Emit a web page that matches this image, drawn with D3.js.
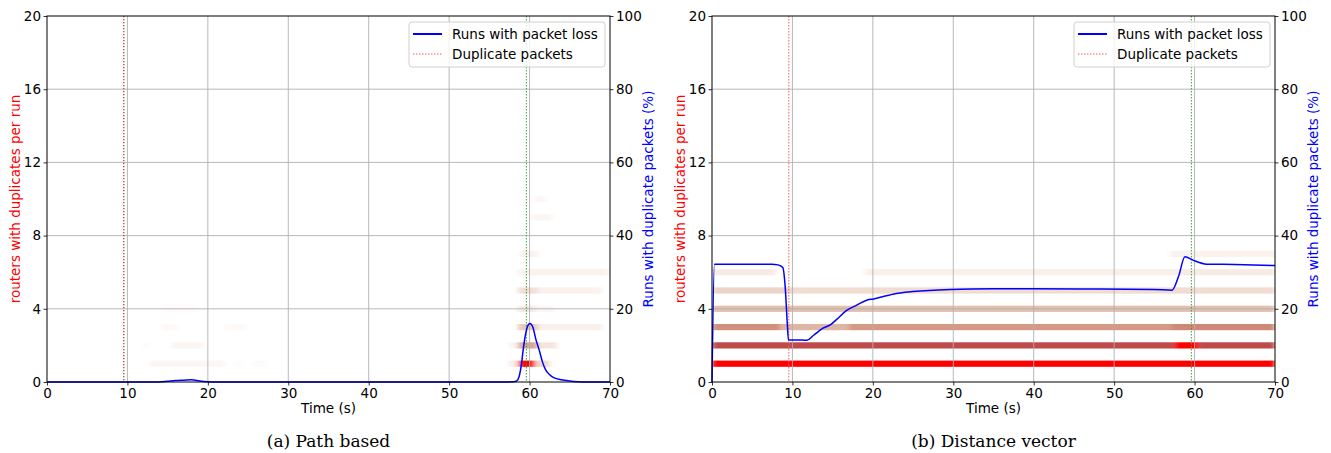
<!DOCTYPE html>
<html>
<head>
<meta charset="utf-8">
<script src="https://cdn.jsdelivr.net/npm/d3@7"></script>
<style>
  body { margin: 0; background: #fff; }
  text { font-family: "DejaVu Sans", sans-serif; }
  text.caption { font-family: "DejaVu Serif", "Liberation Serif", serif; }
</style>
</head>
<body>
<div id="chart"></div>
<script>
// axis ticks
let time_ticks = [0, 10, 20, 30, 40, 50, 60, 70];
let router_ticks = [0, 4, 8, 12, 16, 20];
let pct_ticks = [0, 20, 40, 60, 80, 100];

// runs with packet loss (%), path based
let path_loss_time = [0, 14, 15, 16, 17, 18, 19, 20, 21, 57, 58, 58.4, 58.7, 59, 59.2, 59.5, 59.8, 60.05, 60.4, 60.8, 61.2, 61.6, 62, 62.5, 63, 64, 65, 66, 67, 70];
let path_loss_pct = [0, 0, 0.2, 0.4, 0.5, 0.6, 0.3, 0.1, 0, 0, 0.05, 0.3, 1.5, 5, 8.7, 13, 15.5, 16, 15, 11.5, 8.7, 5.5, 3.3, 2, 1.2, 0.6, 0.3, 0.1, 0, 0];

// runs with packet loss (%), distance vector
let dv_loss_time = [0, 0.3, 1, 5, 7.4, 8.2, 8.8, 9.1, 9.36, 9.5, 10.5, 11.8, 12.6, 13.8, 14.7, 15.5, 16.7, 18, 19.3, 20.1, 22.5, 25, 29.6, 35, 40, 48.2, 55, 57.2, 58, 58.8, 59.8, 61.5, 65, 70];
let dv_loss_pct = [0, 32.2, 32.2, 32.2, 32.2, 32, 31.3, 26, 16, 11.5, 11.5, 11.4, 12.7, 14.7, 15.6, 17.1, 19.5, 21, 22.4, 22.7, 24, 24.7, 25.3, 25.5, 25.5, 25.4, 25.3, 25.1, 28.8, 34.2, 33.3, 32.2, 32.1, 31.8];

// routers with duplicates: [row, from (s), to (s), intensity]
let path_dup = [
  [1, 12.8, 22, 0.05], [1, 23.4, 24.2, 0.025], [1, 25.6, 27.3, 0.025],
  [1, 57.5, 58.6, 0.1], [1, 58.6, 60.7, 1.0], [1, 60.7, 62.5, 0.25],
  [2, 12, 12.7, 0.025], [2, 15.5, 19.4, 0.05],
  [2, 57.5, 58.6, 0.06], [2, 58.6, 61, 0.5], [2, 61, 63.4, 0.15],
  [3, 14.3, 16.2, 0.03], [3, 22.1, 24.8, 0.03],
  [3, 58.6, 61, 0.35], [3, 61, 69, 0.08],
  [4, 14.3, 18.6, 0.025],
  [4, 58.6, 60.7, 0.12], [4, 60.7, 63, 0.04],
  [5, 58.6, 61, 0.2], [5, 61, 69, 0.07],
  [6, 58.6, 69.8, 0.07],
  [7, 58.8, 61, 0.07],
  [9, 60.3, 62.8, 0.05],
  [10, 60.5, 62, 0.04]
];
let dv_dup = [
  [1, 0, 70, 1.0],
  [2, 0, 57.5, 0.8], [2, 57.5, 60.5, 1.0], [2, 60.5, 70, 0.8],
  [3, 0, 8.5, 0.6], [3, 8.5, 17, 0.45], [3, 17, 57, 0.56], [3, 57, 70, 0.62],
  [4, 0, 70, 0.4],
  [5, 0, 10, 0.28], [5, 10, 70, 0.22],
  [6, 0, 8, 0.1], [6, 19, 58, 0.08], [6, 58, 70, 0.1],
  [7, 57, 70, 0.07]
];

// event markers
let red_marker = 9.55;
let green_marker = 59.6;

let chart_width = 1331;
let chart_height = 453;

let svg = d3
  .select('#chart')
  .append('svg')
  .attr('width', chart_width)
  .attr('height', chart_height);

let heat_color = d3
  .scaleLinear()
  .domain([0, 0.1, 0.3, 0.45, 0.6, 0.8, 1])
  .range(['#ffffff', '#f7ece5', '#ebd2c2', '#dfb5a3', '#d0907c', '#c04848', '#ff0000'])
  .clamp(true);

function draw_panel(id, left, caption, loss_time, loss_pct, dup, dark_marker) {
  let top = 16;
  let bottom = 382;
  let right = left + 563;

  let x_scale = d3.scaleLinear().domain([0, 70]).range([left, right]);
  let y_scale = d3.scaleLinear().domain([0, 20]).range([bottom, top]);
  let p_scale = d3.scaleLinear().domain([0, 100]).range([bottom, top]);

  let g = svg.append('g').attr('id', id);

  //clip + blur for the heat map rows
  let defs = g.append('defs');
  defs
    .append('clipPath')
    .attr('id', id + '-clip')
    .append('rect')
    .attr('x', left)
    .attr('y', top)
    .attr('width', right - left)
    .attr('height', bottom - top);
  defs
    .append('filter')
    .attr('id', id + '-blur')
    .attr('x', '-5%')
    .attr('y', '-50%')
    .attr('width', '110%')
    .attr('height', '200%')
    .append('feGaussianBlur')
    .attr('stdDeviation', '2.5 0.6');

  g.append('g')
    .attr('clip-path', 'url(#' + id + '-clip)')
    .append('g')
    .attr('filter', 'url(#' + id + '-blur)')
    .selectAll('rect')
    .data(dup)
    .enter()
    .append('rect')
    .attr('x', d => x_scale(d[1]))
    .attr('width', d => x_scale(d[2]) - x_scale(d[1]))
    .attr('y', d => y_scale(d[0] + 0.17))
    .attr('height', d => y_scale(d[0] - 0.17) - y_scale(d[0] + 0.17))
    .attr('fill', d => heat_color(d[3]));

  //grid
  g.append('g')
    .selectAll('line')
    .data(time_ticks.slice(1, -1))
    .enter()
    .append('line')
    .attr('x1', d => x_scale(d))
    .attr('x2', d => x_scale(d))
    .attr('y1', top)
    .attr('y2', bottom)
    .attr('stroke', '#b0b0b0')
    .attr('stroke-width', 0.9);
  g.append('g')
    .selectAll('line')
    .data(router_ticks.slice(1, -1))
    .enter()
    .append('line')
    .attr('x1', left)
    .attr('x2', right)
    .attr('y1', d => y_scale(d))
    .attr('y2', d => y_scale(d))
    .attr('stroke', '#b0b0b0')
    .attr('stroke-width', 0.9);

  //event markers
  let mx = x_scale(red_marker);
  g.append('line')
    .attr('x1', mx).attr('x2', mx).attr('y1', top).attr('y2', bottom)
    .attr('stroke', '#f06060')
    .attr('stroke-width', 1)
    .attr('stroke-dasharray', '1.5,1.5');
  if (dark_marker) {
    g.append('line')
      .attr('x1', mx).attr('x2', mx).attr('y1', top).attr('y2', bottom)
      .attr('stroke', '#444')
      .attr('stroke-width', 0.8)
      .attr('stroke-dasharray', '1,2');
  }
  let gx = x_scale(green_marker);
  g.append('line')
    .attr('x1', gx).attr('x2', gx).attr('y1', top).attr('y2', bottom)
    .attr('stroke', '#3aa03a')
    .attr('stroke-width', 1)
    .attr('stroke-dasharray', '1.5,1.5');

  //packet loss line
  let line = d3
    .line()
    .x((d, i) => x_scale(loss_time[i]))
    .y(d => p_scale(d))
    .curve(d3.curveMonotoneX);
  g.append('path')
    .datum(loss_pct)
    .attr('d', line)
    .attr('fill', 'none')
    .attr('stroke', '#0000ff')
    .attr('stroke-width', 1.5);

  //axes
  let x_axis = d3.axisBottom(x_scale).tickValues(time_ticks).tickSizeOuter(0).tickSize(3.5).tickPadding(2.5);
  let y_axis = d3.axisLeft(y_scale).tickValues(router_ticks).tickSizeOuter(0).tickSize(3.5).tickPadding(2.5);
  let p_axis = d3.axisRight(p_scale).tickValues(pct_ticks).tickSizeOuter(0).tickSize(3.5).tickPadding(2.5);

  [
    [x_axis, 'translate(0,' + bottom + ')'],
    [y_axis, 'translate(' + left + ',0)'],
    [p_axis, 'translate(' + right + ',0)']
  ].forEach(a => {
    let ag = g.append('g').attr('transform', a[1]).call(a[0]);
    ag.selectAll('text').attr('font-size', 13.5).attr('fill', '#000').attr('font-family', 'DejaVu Sans');
    ag.selectAll('line').attr('stroke', '#000').attr('stroke-width', 0.8);
    ag.select('.domain').remove();
  });

  //frame
  g.append('rect')
    .attr('x', left)
    .attr('y', top)
    .attr('width', right - left)
    .attr('height', bottom - top)
    .attr('fill', 'none')
    .attr('stroke', '#000')
    .attr('stroke-width', 1);

  //labels
  g.append('text')
    .text('Time (s)')
    .attr('x', (left + right) / 2)
    .attr('y', 413)
    .attr('text-anchor', 'middle')
    .attr('font-size', 13.5);
  g.append('text')
    .text('routers with duplicates per run')
    .attr('transform', 'translate(' + (left - 27) + ',' + (top + bottom) / 2 + ') rotate(-90)')
    .attr('text-anchor', 'middle')
    .attr('fill', '#ff0000')
    .attr('font-size', 13.5);
  g.append('text')
    .text('Runs with duplicate packets (%)')
    .attr('transform', 'translate(' + (right + 43) + ',' + (top + bottom) / 2 + ') rotate(-90)')
    .attr('text-anchor', 'middle')
    .attr('fill', '#0000ff')
    .attr('font-size', 13.5);
  g.append('text')
    .attr('class', 'caption')
    .text(caption)
    .attr('x', (left + right) / 2)
    .attr('y', 447)
    .attr('text-anchor', 'middle')
    .attr('font-size', 17);

  //legend
  let lg = g.append('g').attr('transform', 'translate(' + (right - 201) + ',' + 22 + ')');
  lg.append('rect')
    .attr('width', 196)
    .attr('height', 45)
    .attr('rx', 3)
    .attr('fill', 'rgba(255,255,255,0.8)')
    .attr('stroke', '#d0d0d0');
  lg.append('line')
    .attr('x1', 4).attr('x2', 33).attr('y1', 12).attr('y2', 12)
    .attr('stroke', '#0000ff').attr('stroke-width', 2);
  lg.append('line')
    .attr('x1', 4).attr('x2', 33).attr('y1', 32).attr('y2', 32)
    .attr('stroke', '#f06060').attr('stroke-width', 1).attr('stroke-dasharray', '1.5,1.5');
  lg.append('text').text('Runs with packet loss').attr('x', 43).attr('y', 17).attr('font-size', 13.5);
  lg.append('text').text('Duplicate packets').attr('x', 43).attr('y', 37).attr('font-size', 13.5);
}

draw_panel('path', 47, '(a) Path based', path_loss_time, path_loss_pct, path_dup, true);
draw_panel('dv', 712, '(b) Distance vector', dv_loss_time, dv_loss_pct, dv_dup, false);
</script>
</body>
</html>
